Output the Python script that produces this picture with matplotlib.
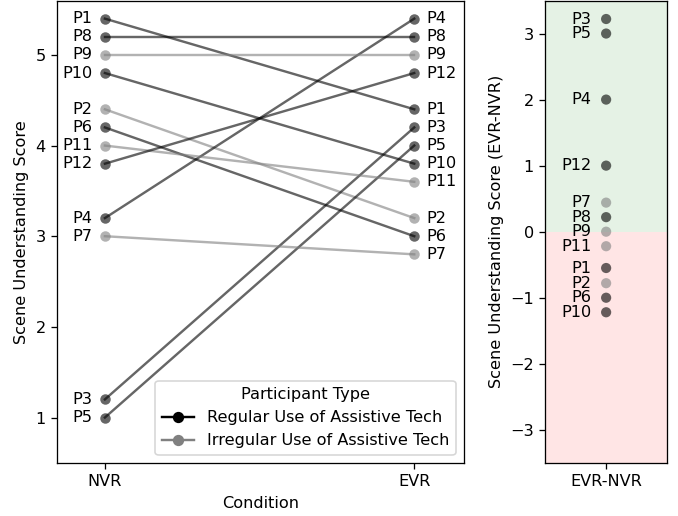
import matplotlib
matplotlib.use("Agg")
import matplotlib.pyplot as plt
from matplotlib.lines import Line2D

# participants and scores
participants = ["P1", "P2", "P3", "P4", "P5", "P6", "P7", "P8", "P9", "P10", "P11", "P12"]
nvr = [5.4, 4.4, 1.2, 3.2, 1.0, 4.2, 3.0, 5.2, 5.0, 4.8, 4.0, 3.8]
evr = [4.4, 3.2, 4.2, 5.4, 4.0, 3.0, 2.8, 5.2, 5.0, 3.8, 3.6, 4.8]
regular = [True, False, True, True, True, True, False, True, False, True, False, True]
# right panel positions (as drawn, slightly spread out)
diff = [-0.55, -0.78, 3.22, 2.0, 3.0, -1.0, 0.44, 0.22, 0.0, -1.22, -0.22, 1.0]

conditions = ["NVR", "EVR"]

DPI = 116
fig = plt.figure(figsize=(678 / DPI, 516 / DPI), dpi=DPI)
ax = fig.add_axes([0.084, 0.103, 0.600, 0.896])
ax2 = fig.add_axes([0.804, 0.103, 0.180, 0.896])

for i, p in enumerate(participants):
    c = "black" if regular[i] else "grey"
    ax.plot([0, 1], [nvr[i], evr[i]], color=c, alpha=0.6, marker="o",
            markersize=6.5, markeredgewidth=0, linewidth=1.5)
    ax.text(-0.04, nvr[i], p, ha="right", va="center")
    ax.text(1.04, evr[i], p, ha="left", va="center")

ax.set_xticks([0, 1])
ax.set_xticklabels(conditions)
ax.set_xlim(-0.155, 1.16)
ax.set_ylim(0.5, 5.6)
ax.set_xlabel("Condition")
ax.set_ylabel("Scene Understanding Score")

handles = [
    Line2D([0], [0], color="black", marker="o", label="Regular Use of Assistive Tech"),
    Line2D([0], [0], color="grey", marker="o", label="Irregular Use of Assistive Tech"),
]
ax.legend(handles=handles, title="Participant Type", loc="lower right")

# difference panel
ax2.axhspan(0, 3.5, color="green", alpha=0.1, linewidth=0)
ax2.axhspan(-3.5, 0, color="red", alpha=0.1, linewidth=0)
for i, p in enumerate(participants):
    c = "black" if regular[i] else "grey"
    ax2.scatter(0, diff[i], color=c, alpha=0.6, s=40, edgecolors="none", zorder=3)
    ax2.text(-0.12, diff[i], p, ha="right", va="center")

ax2.set_xlim(-0.5, 0.5)
ax2.set_ylim(-3.5, 3.5)
ax2.set_xticks([0])
ax2.set_xticklabels(["EVR-NVR"])
ax2.set_ylabel("Scene Understanding Score (EVR-NVR)")

fig.savefig("out.png", dpi=DPI)
